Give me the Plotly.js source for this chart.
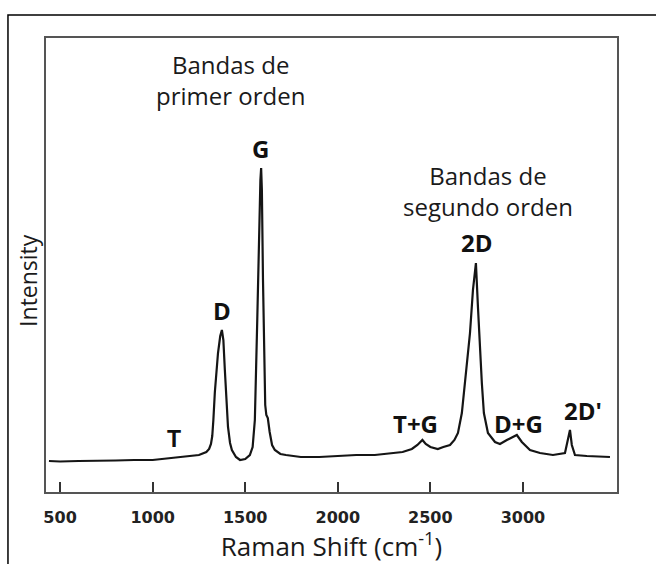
<!DOCTYPE html>
<html>
<head>
<meta charset="utf-8">
<script src="https://cdn.plot.ly/plotly-3.0.1.min.js"></script>
<style>html,body{margin:0;padding:0;background:#fff;}#chart{width:656px;height:564px;}</style>
</head>
<body>
<div id="chart"></div>
<script>
// Raman shift (cm^-1) and intensity (arbitrary units)
const ramanShift = [440, 500, 600, 700, 800, 900, 1000, 1050, 1100, 1148, 1200, 1250, 1290, 1305, 1315, 1322, 1328, 1336, 1353, 1365, 1374, 1382, 1390, 1400, 1407, 1418, 1428, 1450, 1472, 1500, 1525, 1540, 1552, 1565, 1575, 1582, 1586, 1590, 1596, 1602, 1608, 1614, 1622, 1632, 1645, 1660, 1690, 1720, 1800, 1900, 2000, 2100, 2200, 2300, 2350, 2400, 2430, 2457, 2475, 2500, 2540, 2570, 2606, 2630, 2649, 2670, 2687, 2714, 2730, 2746, 2757, 2768, 2778, 2789, 2811, 2849, 2876, 2913, 2946, 2967, 2994, 3038, 3092, 3162, 3227, 3243, 3254, 3264, 3281, 3345, 3470];
const intensity  = [31, 30.5, 31, 31, 31.5, 32, 32, 33, 34, 35, 36, 37, 40, 43, 48, 56, 72, 100, 139, 156, 162, 152, 122, 87, 65, 49, 42, 35, 32, 33, 37, 45, 72, 172, 262, 312, 324, 302, 212, 122, 87, 77, 74, 60, 47, 42, 38, 37, 35, 35, 36, 37, 37, 39, 40, 43, 47, 52, 48, 45, 43, 45, 47, 52, 59, 79, 112, 159, 202, 229, 185, 142, 109, 79, 59, 50, 48, 52, 55, 57, 50, 42, 39, 37, 39, 52, 62, 47, 37, 36, 35];

const tickValues = [500, 1000, 1500, 2000, 2500, 3000];
const tickLabels = ['500', '1000', '1500', '2000', '2500', '3000'];

const bandNames = ['T', 'D', 'G', 'T+G', '2D', 'D+G', "2D'"];
const bandX     = [1115, 1374, 1585, 2422, 2751, 2978, 3324];
const bandY     = [53, 182, 344, 69, 250, 69, 82];

const groupNames = ['Bandas de<br>primer orden', 'Bandas de<br>segundo orden'];
const groupX     = [1418, 2811];
const groupY     = [412, 301];

const textFont = 'Open Sans, Noto Sans, sans-serif';

const annotations = [];
bandNames.forEach((n, i) => {
  const isT = n === 'T';
  annotations.push({
    x: bandX[i], y: bandY[i], xref: 'x', yref: 'y', text: n, showarrow: false,
    xanchor: 'center', yanchor: 'middle',
    font: isT ? {family: 'Liberation Sans, Arial, sans-serif', size: 23, color: '#111', weight: 'bold'}
              : {family: textFont, size: 24, color: '#111', weight: 'bold'}
  });
});
groupNames.forEach((n, i) => {
  annotations.push({
    x: groupX[i], y: groupY[i], xref: 'x', yref: 'y', text: n, showarrow: false,
    xanchor: 'center', yanchor: 'middle', align: 'center',
    font: {family: textFont, size: 24, color: '#1a1a1a'}
  });
});
annotations.push({
  x: -0.0315, y: 0.465, xref: 'paper', yref: 'paper', text: 'Intensity', showarrow: false,
  textangle: -90, xanchor: 'center', yanchor: 'middle',
  font: {family: textFont, size: 23, color: '#1a1a1a'}
});

const trace = {
  x: ramanShift, y: intensity, type: 'scatter', mode: 'lines',
  line: {color: '#151515', width: 2.2}, hoverinfo: 'skip'
};

const layout = {
  width: 656, height: 564,
  margin: {l: 46, r: 39, t: 38, b: 72, pad: 0},
  paper_bgcolor: '#fff', plot_bgcolor: '#fff',
  showlegend: false,
  xaxis: {
    range: [424, 3508], showgrid: false, zeroline: false,
    showline: true, mirror: true, linecolor: '#555', linewidth: 2,
    ticks: 'inside', ticklen: 10, tickwidth: 2, tickcolor: '#333',
    tickmode: 'array', tickvals: tickValues, ticktext: tickLabels,
    tickfont: {family: 'DejaVu Sans, sans-serif', size: 16, color: '#222', weight: 'bold'},
    ticklabelstandoff: 10,
    title: {text: 'Raman Shift (cm<sup>-1</sup>)', font: {family: textFont, size: 26, color: '#1a1a1a'}, standoff: 4}
  },
  yaxis: {
    range: [0, 454], showgrid: false, zeroline: false, showticklabels: false, ticks: '',
    showline: true, mirror: true, linecolor: '#555', linewidth: 2
  },
  annotations: annotations,
  shapes: [{
    type: 'rect', xref: 'paper', yref: 'paper',
    x0: -0.0666, x1: 1.08, y0: -0.18, y1: 1.0507,
    line: {color: '#000', width: 1.5}, fillcolor: 'rgba(0,0,0,0)'
  }]
};

Plotly.newPlot('chart', [trace], layout, {staticPlot: true, displayModeBar: false});
</script>
</body>
</html>
